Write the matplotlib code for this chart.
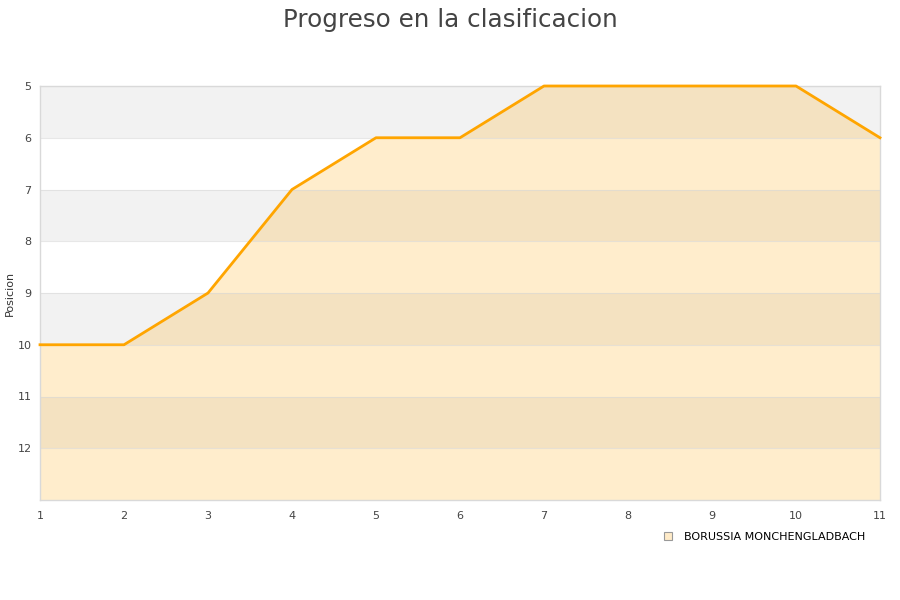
import matplotlib
matplotlib.use("Agg")
import matplotlib.pyplot as plt
from matplotlib.lines import Line2D

jornadas = [1, 2, 3, 4, 5, 6, 7, 8, 9, 10, 11]
posiciones = [10, 10, 9, 7, 6, 6, 5, 5, 5, 5, 6]
equipo = "BORUSSIA MONCHENGLADBACH"
y_ticks = [5, 6, 7, 8, 9, 10, 11, 12]
y_min, y_max = 5, 13

fig = plt.figure(figsize=(9, 6), dpi=100)
ax = fig.add_axes([40/900, 1-500/600, 840/900, 414/600])

# alternating bands
for i, lo in enumerate(range(y_min, y_max)):
    if i % 2 == 0:
        ax.axhspan(lo, lo+1, color="#f2f2f2", zorder=0, lw=0)

ax.fill_between(jornadas, posiciones, y_max, color="#ffa500", alpha=0.2, lw=0, zorder=1)
for t in range(y_min, y_max):
    ax.axhline(t, color="#d8d8d8", lw=0.8, alpha=0.6, zorder=1.5)
ax.plot(jornadas, posiciones, color="#ffa500", lw=2, zorder=3, clip_on=False)

ax.set_xlim(1, 11)
ax.set_ylim(y_max, y_min)
ax.set_yticks(y_ticks)
ax.set_xticks(jornadas)
ax.tick_params(length=0, labelsize=8, colors="#444444", pad=6)
ax.tick_params(axis="x", pad=8)
for s in ax.spines.values():
    s.set_color("#d9d9d9")
    s.set_linewidth(1)
ax.set_ylabel("Posicion", fontsize=8, color="#333333")
ax.yaxis.set_label_coords(-25/840, 0.5)

fig.text(0.5, 1-27/600, "Progreso en la clasificacion", ha="center", va="baseline",
         fontsize=17.7, color="#444444")

handle = Line2D([], [], marker="s", ls="", markersize=6, markerfacecolor="#ffebc8",
                markeredgecolor="#999999", markeredgewidth=0.8)
fig.legend([handle], [equipo], loc="center left", bbox_to_anchor=(657/900, 1-537/600),
           frameon=False, fontsize=8, handletextpad=0.9, borderpad=0, handlelength=1)

fig.savefig("out.png", dpi=100)
